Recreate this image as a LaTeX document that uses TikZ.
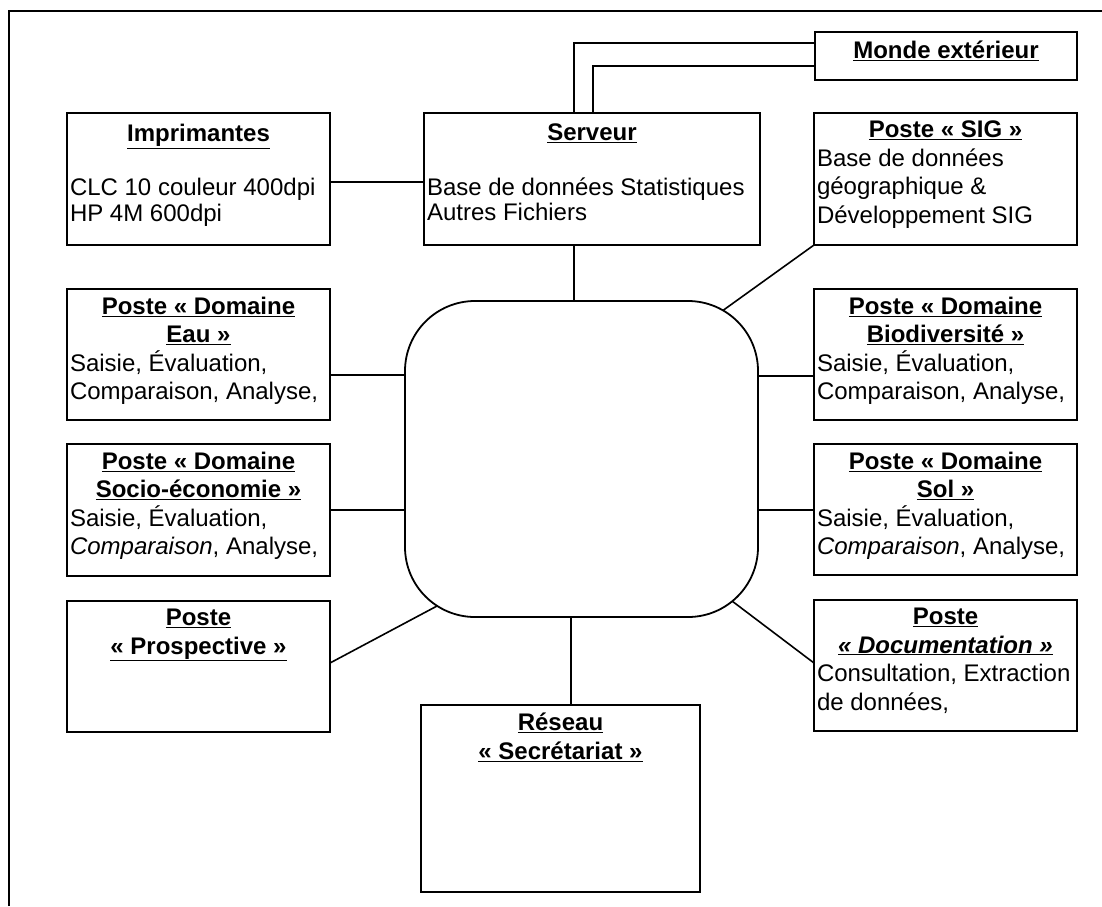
\documentclass[tikz,border=0pt]{standalone}
\usepackage{fontspec}
\setmainfont{Liberation Sans}
\usetikzlibrary{calc}
\newcommand{\uln}[1]{\underline{#1}}
\newcommand{\ttl}[1]{{\centering\bfseries #1\par}}
\newcommand{\bdy}[1]{{\raggedright #1\par}}
\begin{document}
\begin{tikzpicture}[x=1pt,y=-1pt,
  every node/.style={font=\fontsize{24}{28.5}\selectfont, inner sep=0pt, outer sep=0pt},
  box/.style={draw, line width=1.4pt, anchor=north west, minimum width=#1},
  lbox/.style={box=263pt},
  rbox/.style={box=263pt},
  txt/.style={anchor=north west},
  link/.style={line width=1.6pt},
  frame/.style={line width=1.2pt}]
\useasboundingbox (0,0) rectangle (1102,906);
% frame
\draw[frame] (9,906) -- (9,11) -- (1102,11);
% boxes
\node (monde) [rbox, minimum height=48pt, minimum width=262pt] at (815,32) {};
\node (imp)   [lbox, minimum height=132pt] at (67,113) {};
\node (serv)  [box=336pt, minimum height=132pt] at (424,113) {};
\node (sig)   [rbox, minimum height=132pt] at (814,113) {};
\node (eau)   [lbox, minimum height=131pt] at (67,289) {};
\node (bio)   [rbox, minimum height=131pt] at (814,289) {};
\node (socio) [lbox, minimum height=132pt] at (67,444) {};
\node (sol)   [rbox, minimum height=131pt] at (814,444) {};
\node (prosp) [lbox, minimum height=131pt] at (67,601) {};
\node (doc)   [rbox, minimum height=131pt] at (814,600) {};
\node (res)   [box=279pt, minimum height=187pt] at (421,705) {};
\node (cen)   [draw, line width=1.8pt, rounded corners=70pt, anchor=north west,
               minimum width=353pt, minimum height=316pt] at (405,301) {};
% texts
\node (mondeT) [anchor=north] at ([yshift=-9pt]monde.north) {\bfseries\uln{Monde extérieur}};
\node (impT) [txt] at ($(imp.north west)+(3,11)$) {\begin{minipage}{257pt}
  \ttl{\uln{Imprimantes}}\vspace{29pt}
  {\fontsize{24}{25.5}\selectfont\bdy{CLC 10 couleur 400dpi\\HP 4M 600dpi}}\end{minipage}};
\node (servT) [txt] at ($(serv.north west)+(3,11)$) {\begin{minipage}{330pt}
  \ttl{\uln{Serveur}}\vspace{29pt}
  {\fontsize{24}{25.5}\selectfont\bdy{Base de données Statistiques\\Autres Fichiers}}\end{minipage}};
\node (sigT) [txt] at ($(sig.north west)+(3,8)$) {\begin{minipage}{257pt}
  \ttl{\uln{Poste « SIG »}}
  \bdy{Base de données\\géographique \&\\Développement SIG}\end{minipage}};
\node (eauT) [txt] at ($(eau.north west)+(3,8)$) {\begin{minipage}{257pt}
  \ttl{\uln{Poste « Domaine}\\\uln{Eau »}}
  \bdy{Saisie, Évaluation,\\Comparaison, Analyse,}\end{minipage}};
\node (bioT) [txt] at ($(bio.north west)+(3,8)$) {\begin{minipage}{257pt}
  \ttl{\uln{Poste « Domaine}\\\uln{Biodiversité »}}
  \bdy{Saisie, Évaluation,\\Comparaison, Analyse,}\end{minipage}};
\node (socioT) [txt] at ($(socio.north west)+(3,8)$) {\begin{minipage}{257pt}
  \ttl{\uln{Poste « Domaine}\\\uln{Socio-économie »}}
  \bdy{Saisie, Évaluation,\\\textit{Comparaison}, Analyse,}\end{minipage}};
\node (solT) [txt] at ($(sol.north west)+(3,8)$) {\begin{minipage}{257pt}
  \ttl{\uln{Poste « Domaine}\\\uln{Sol »}}
  \bdy{Saisie, Évaluation,\\\textit{Comparaison}, Analyse,}\end{minipage}};
\node (prospT) [txt] at ($(prosp.north west)+(3,8)$) {\begin{minipage}{257pt}
  \ttl{\uln{Poste}\\\uln{« Prospective »}}\end{minipage}};
\node (docT) [txt] at ($(doc.north west)+(3,8)$) {\begin{minipage}{257pt}
  \ttl{\uln{Poste}\\\uln{\itshape « Documentation »}}
  \bdy{Consultation, Extraction\\de données,}\end{minipage}};
\node (resT) [txt] at ($(res.north west)+(3,8)$) {\begin{minipage}{273pt}
  \ttl{\uln{Réseau}\\\uln{« Secrétariat »}}\end{minipage}};
% double line to Monde extérieur
\draw[link, line width=1.3pt] ([yshift=-11pt]monde.north west) -| ([xshift=150pt]serv.north west);
\draw[link, line width=1.3pt] ([yshift=-34pt]monde.north west) -| ([xshift=169pt]serv.north west);
% connectors
\draw[link] ([yshift=-69pt]imp.north east) -- ([yshift=-69pt]serv.north west);
\draw[link] ([xshift=150pt]serv.south west) -- ([xshift=169pt]cen.north west);
\draw[link] (sig.south west) -- ($(cen.north east)+(-35,9.4)$);
\draw[link] ([yshift=-86pt]eau.north east) -- ([yshift=-74pt]cen.north west);
\draw[link] ([yshift=-87pt]bio.north west) -- ([yshift=-75pt]cen.north east);
\draw[link] ([yshift=-66pt]socio.north east) -- ([yshift=-209pt]cen.north west);
\draw[link] ([yshift=-66pt]sol.north west) -- ([yshift=-209pt]cen.north east);
\draw[link] ([yshift=-62pt]prosp.north east) -- ($(cen.south west)+(32,-11)$);
\draw[link] ([yshift=-63pt]doc.north west) -- ($(cen.south east)+(-26,-16)$);
\draw[link] ([xshift=150pt]res.north west) -- ([xshift=166pt]cen.south west);
\end{tikzpicture}
\end{document}
